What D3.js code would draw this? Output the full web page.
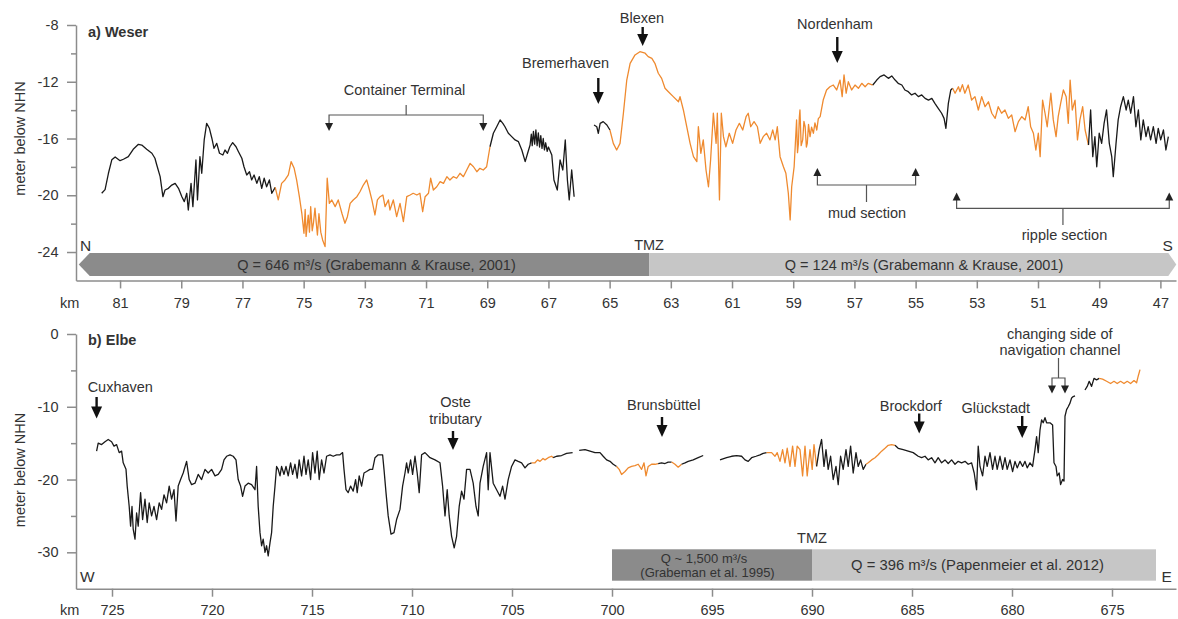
<!DOCTYPE html>
<html><head><meta charset="utf-8">
<script src="https://cdn.jsdelivr.net/npm/d3@7"></script>
<style>
body{margin:0;background:#fff;}
svg{display:block;font-family:"Liberation Sans",Arial,sans-serif;}
</style></head><body>
<svg id="c" width="1178" height="619"></svg>
<script>
// ---------------- DATA ----------------
// Weser (km, depth m)
const weserA = [[81.60,-19.86],[81.49,-19.6],[81.38,-18.45],[81.27,-17.5],[81.16,-17.3],[81.0,-17.56],[80.89,-17.46],[80.73,-17.28],[80.57,-16.76],[80.40,-16.41],[80.29,-16.46],[80.13,-16.76],[79.96,-17.04],[79.86,-17.39],[79.80,-17.87],[79.69,-18.69],[79.60,-20.1],[79.53,-19.63],[79.42,-19.51],[79.31,-19.28],[79.20,-19.16],[79.09,-19.51],[78.98,-20.1],[78.90,-20.45],[78.82,-19.86],[78.77,-21.04],[78.68,-19.16],[78.62,-20.8],[78.52,-17.51],[78.47,-20.33],[78.39,-17.28],[78.33,-18.45],[78.25,-16.1],[78.17,-14.93],[78.08,-15.28],[78.00,-15.98],[77.93,-16.69],[77.84,-16.34],[77.75,-17.04],[77.64,-17.16],[77.57,-16.81],[77.49,-17.04],[77.41,-16.58],[77.32,-16.29],[77.21,-16.58],[77.13,-16.93],[77.02,-17.39],[76.95,-17.99],[76.86,-18.57],[76.77,-18.34],[76.70,-18.92],[76.62,-18.57],[76.53,-19.16],[76.45,-18.69],[76.37,-19.51],[76.29,-18.8],[76.21,-19.4],[76.12,-18.92],[76.04,-19.86],[75.93,-19.44]];
const weserB = [[75.93,-19.44],[75.83,-20.33],[75.72,-19.16],[75.61,-18.92],[75.50,-18.57],[75.41,-17.63],[75.31,-18.1],[75.23,-18.92],[75.14,-20.1],[75.06,-21.27],[74.99,-22.68],[74.95,-21.0],[74.92,-22.9],[74.85,-21.4],[74.81,-22.6],[74.77,-20.8],[74.72,-22.5],[74.68,-21.97],[74.63,-20.9],[74.59,-21.9],[74.55,-22.8],[74.50,-21.3],[74.44,-22.6],[74.38,-23.15],[74.30,-23.62],[74.23,-18.8],[74.16,-20.57],[74.08,-20.33],[73.97,-20.8],[73.87,-20.33],[73.75,-21.27],[73.65,-21.97],[73.57,-21.51],[73.48,-20.57],[73.38,-20.33],[73.26,-20.1],[73.16,-19.75],[73.05,-19.28],[72.94,-18.92],[72.85,-19.63],[72.77,-20.33],[72.67,-21.39],[72.59,-20.33],[72.50,-20.1],[72.41,-19.98],[72.34,-20.8],[72.23,-20.33],[72.18,-21.04],[72.07,-20.33],[71.96,-21.51],[71.85,-20.57],[71.74,-21.86],[71.63,-20.1],[71.52,-19.98],[71.42,-19.86],[71.30,-19.98],[71.20,-19.86],[71.11,-21.16],[71.03,-20.1],[70.92,-19.86],[70.85,-18.8],[70.76,-19.63],[70.65,-19.4],[70.54,-19.04],[70.43,-19.16],[70.32,-18.69],[70.22,-18.92],[70.11,-18.69],[70.00,-18.8],[69.89,-18.45],[69.78,-18.69],[69.67,-18.22],[69.56,-17.75],[69.45,-17.99],[69.34,-18.34],[69.24,-18.1],[69.13,-18.22],[69.02,-17.99],[68.91,-16.58]];
const weserC = [[68.91,-16.58],[68.80,-15.63],[68.69,-15.17],[68.58,-14.69],[68.49,-14.93],[68.42,-15.17],[68.31,-15.63],[68.20,-15.87],[68.09,-16.1],[67.98,-16.22],[67.87,-16.81],[67.76,-17.63],[67.68,-17.04],[67.60,-16.46],[67.56,-15.7],[67.53,-16.5],[67.49,-15.5],[67.45,-16.4],[67.41,-15.4],[67.37,-16.5],[67.33,-15.6],[67.29,-16.6],[67.25,-15.8],[67.21,-16.7],[67.17,-16.0],[67.13,-16.8],[67.09,-16.3],[67.04,-16.9],[67.00,-16.6],[66.89,-17.16],[66.82,-18.92],[66.71,-19.63],[66.62,-17.51],[66.53,-18.22],[66.45,-16.1],[66.38,-18.92],[66.32,-20.33],[66.24,-18.22],[66.16,-20.1]];
const weserD = [[65.51,-15.05],[65.42,-15.17],[65.37,-15.63],[65.31,-14.93],[65.21,-14.81],[65.09,-15.05],[64.99,-15.4]];
const weserE = [[64.99,-15.4],[64.88,-16.34],[64.77,-16.81],[64.66,-16.34],[64.55,-14.22],[64.44,-11.88],[64.33,-10.7],[64.17,-10.11],[64.01,-9.88],[63.84,-9.99],[63.74,-10.23],[63.62,-10.35],[63.52,-10.7],[63.41,-11.4],[63.30,-11.76],[63.19,-12.46],[63.08,-12.7],[62.92,-13.05],[62.75,-13.41],[62.70,-13.05],[62.59,-13.99],[62.48,-15.17],[62.37,-16.34],[62.26,-17.28],[62.15,-17.63],[62.10,-15.17],[62.02,-17.04],[61.94,-16.1],[61.85,-18.22],[61.77,-19.4],[61.70,-17.51],[61.61,-14.22],[61.52,-16.34],[61.48,-14.22],[61.41,-20.33],[61.35,-14.22],[61.28,-15.87],[61.20,-16.58],[61.09,-15.63],[60.98,-16.34],[60.87,-15.4],[60.76,-14.93],[60.65,-15.4],[60.54,-14.46],[60.47,-14.22],[60.39,-15.17],[60.28,-14.81],[60.17,-15.17],[60.08,-16.34],[59.98,-15.87],[59.87,-15.63],[59.76,-16.1],[59.67,-15.4],[59.59,-16.1],[59.52,-15.17],[59.43,-17.28],[59.32,-17.99],[59.24,-18.45],[59.16,-19.86],[59.10,-21.74],[59.05,-19.4],[58.97,-17.99],[58.89,-14.69],[58.86,-17.0],[58.83,-16.34],[58.80,-14.5],[58.78,-13.99],[58.74,-16.5],[58.69,-16.1],[58.65,-14.8],[58.61,-15.17],[58.57,-16.6],[58.54,-16.34],[58.50,-15.0],[58.45,-15.87],[58.40,-15.2],[58.34,-15.63],[58.29,-14.9],[58.23,-15.4],[58.18,-14.6],[58.12,-14.46],[58.02,-13.29],[57.91,-12.58],[57.80,-12.35],[57.69,-12.23],[57.58,-12.58],[57.47,-11.88],[57.40,-13.05],[57.34,-11.52],[57.27,-12.81],[57.20,-12.0],[57.09,-12.58],[56.98,-12.23],[56.87,-12.46],[56.76,-12.11],[56.65,-12.35],[56.55,-12.11],[56.40,-12.23]];
const weserF = [[56.40,-12.23],[56.27,-11.88],[56.16,-11.64],[56.03,-11.52],[55.89,-11.76],[55.78,-11.59],[55.67,-11.88],[55.57,-12.11],[55.45,-12.23],[55.35,-12.58],[55.24,-12.7],[55.13,-12.93],[55.02,-12.81],[54.91,-13.05],[54.80,-12.93],[54.69,-13.17],[54.58,-13.29],[54.47,-13.17],[54.37,-13.52],[54.26,-13.87],[54.15,-14.22],[54.07,-14.58],[54.01,-15.28],[53.93,-13.52],[53.85,-12.58],[53.79,-12.46]];
const weserG = [[53.79,-12.46],[53.71,-12.81],[53.60,-12.35],[53.55,-12.7],[53.47,-12.2],[53.39,-12.81],[53.28,-12.23],[53.17,-13.29],[53.06,-13.05],[52.95,-13.99],[52.84,-13.05],[52.73,-13.76],[52.62,-13.41],[52.51,-14.22],[52.40,-14.58],[52.30,-13.76],[52.19,-14.22],[52.08,-13.99],[51.97,-14.58],[51.86,-14.34],[51.75,-15.52],[51.64,-14.81],[51.53,-14.46],[51.42,-14.69],[51.32,-13.76],[51.24,-15.17],[51.15,-15.63],[51.07,-16.81],[50.99,-15.63],[50.93,-17.28],[50.85,-13.29],[50.77,-14.22],[50.70,-15.17],[50.58,-12.81],[50.50,-14.69],[50.41,-15.87],[50.34,-14.46],[50.26,-13.52],[50.17,-12.58],[50.08,-13.05],[50.01,-14.93],[49.95,-11.88],[49.88,-13.99],[49.79,-13.29],[49.71,-16.1],[49.63,-14.69],[49.54,-13.76],[49.46,-15.4],[49.35,-16.46]];
const weserH = [[49.35,-16.46],[49.28,-13.99],[49.21,-17.28],[49.14,-15.87],[49.08,-17.99],[49.00,-15.63],[48.92,-16.34],[48.84,-14.93],[48.76,-13.99],[48.67,-16.34],[48.59,-17.28],[48.54,-18.69],[48.45,-16.34],[48.38,-14.69],[48.30,-13.76],[48.21,-13.05],[48.12,-13.99],[48.05,-13.29],[47.97,-14.22],[47.88,-13.05],[47.80,-15.17],[47.72,-13.99],[47.64,-16.1],[47.56,-14.69],[47.47,-15.87],[47.40,-15.17],[47.32,-16.1],[47.23,-15.17],[47.14,-16.34],[47.07,-15.28],[46.99,-16.1],[46.90,-15.4],[46.82,-16.81],[46.74,-15.87]];

// Elbe (km, depth m)
const elbeA = [[725.77,-16.1],[725.69,-15.0],[725.52,-15.2],[725.35,-14.8],[725.19,-14.5],[725.02,-14.8],[724.90,-15.4],[724.77,-15.2],[724.64,-16.3],[724.52,-16.1],[724.44,-17.7],[724.30,-18.6],[724.24,-20.9],[724.14,-23.7],[724.07,-26.4],[724.00,-23.7],[723.94,-26.8],[723.85,-28.2],[723.77,-24.6],[723.69,-26.4],[723.57,-21.8],[723.47,-25.5],[723.35,-22.7],[723.24,-25.9],[723.14,-23.2],[723.02,-25.0],[722.90,-23.7],[722.77,-25.5],[722.64,-23.2],[722.52,-24.1],[722.40,-22.1],[722.27,-23.2],[722.14,-20.9],[722.02,-22.7],[721.90,-21.4],[721.80,-25.7],[721.69,-20.9],[721.57,-20.0],[721.44,-19.1],[721.27,-17.5],[721.14,-20.0],[721.02,-20.7],[720.85,-20.5],[720.69,-19.3],[720.52,-20.0],[720.35,-18.6],[720.19,-19.1],[720.02,-18.6],[719.85,-19.5],[719.69,-19.3],[719.52,-18.6],[719.40,-17.3],[719.27,-16.8],[719.10,-16.6],[718.94,-16.8],[718.80,-17.3],[718.69,-20.0],[718.57,-20.9],[718.47,-22.3],[718.35,-20.9],[718.19,-20.5],[718.02,-20.7],[717.85,-21.4],[717.77,-18.2],[717.69,-23.7],[717.60,-27.3],[717.52,-29.1],[717.44,-28.2],[717.35,-30.0],[717.27,-29.1],[717.19,-30.5],[717.10,-28.7],[717.02,-27.3],[716.94,-23.7],[716.85,-20.9],[716.77,-18.2],[716.69,-18.6],[716.60,-19.5],[716.52,-18.2],[716.40,-19.3],[716.30,-18.2],[716.19,-19.5],[716.07,-17.7],[715.97,-19.3],[715.85,-17.9],[715.74,-19.8],[715.64,-17.3],[715.52,-19.5],[715.40,-16.8],[715.30,-19.3],[715.19,-17.3],[715.07,-20.0],[714.97,-16.3],[714.85,-19.1],[714.74,-16.1],[714.64,-20.0],[714.52,-17.3],[714.40,-19.1],[714.27,-16.8],[714.10,-16.6],[713.94,-16.8],[713.77,-16.6],[713.60,-16.6],[713.47,-16.3],[713.40,-18.6],[713.30,-21.4],[713.19,-21.8],[713.07,-20.9],[712.94,-21.6],[712.82,-20.0],[712.74,-21.8],[712.64,-19.5],[712.52,-20.9],[712.40,-19.1],[712.27,-18.9],[712.10,-18.6],[711.97,-18.6],[711.85,-17.0],[711.69,-16.6],[711.47,-16.6],[711.40,-18.6],[711.30,-21.8],[711.19,-25.0],[711.05,-27.5],[710.90,-27.3],[710.77,-25.5],[710.60,-24.1],[710.47,-20.9],[710.35,-19.1],[710.27,-17.7],[710.19,-19.1],[710.07,-17.3],[709.97,-19.3],[709.85,-16.8],[709.74,-19.1],[709.64,-21.8],[709.52,-16.6],[709.35,-16.3],[709.10,-17.0],[708.85,-17.3],[708.60,-17.7],[708.47,-20.9],[708.35,-25.0],[708.24,-21.4],[708.14,-25.0],[708.02,-27.8],[707.89,-29.4],[707.77,-27.8],[707.64,-23.7],[707.52,-21.6],[707.40,-22.7],[707.27,-18.6],[707.10,-18.6],[706.94,-20.5],[706.80,-23.7],[706.69,-25.0],[706.60,-20.5],[706.44,-18.2],[706.27,-16.3],[706.19,-21.4],[706.10,-16.3],[705.94,-20.5],[705.77,-21.4],[705.60,-22.3],[705.47,-20.9],[705.35,-22.7],[705.19,-20.0],[705.02,-18.2],[704.85,-17.3],[704.69,-17.5],[704.52,-17.7],[704.35,-18.4],[704.19,-17.9],[704.02,-17.7]];
const elbeB = [[704.02,-17.7],[703.85,-17.7],[703.72,-17.3],[703.60,-17.5],[703.45,-17.1],[703.35,-17.3],[703.19,-17.0],[703.02,-16.8],[702.94,-17.0]];
const elbeC = [[702.94,-17.0],[702.77,-16.8],[702.52,-16.7],[702.27,-16.4],[701.97,-16.3]];
const elbeD = [[701.64,-16.0],[701.35,-15.9],[701.10,-16.1],[700.85,-16.3],[700.60,-16.3],[700.44,-16.8],[700.27,-17.3],[700.10,-17.5],[699.94,-17.9],[699.77,-18.2]];
const elbeE = [[699.77,-18.2],[699.64,-18.6],[699.52,-19.3],[699.35,-18.9],[699.19,-18.4],[699.02,-18.2],[698.85,-18.1],[698.69,-17.9],[698.52,-18.6],[698.40,-17.7],[698.30,-19.5],[698.19,-18.2],[698.02,-17.9],[697.85,-17.9],[697.69,-17.8]];
const elbeF = [[697.69,-17.8],[697.52,-17.7],[697.35,-17.8],[697.19,-17.6],[697.02,-17.6]];
const elbeG = [[697.02,-17.6],[696.85,-17.9],[696.69,-18.3],[696.52,-17.9]];
const elbeH = [[696.52,-17.9],[696.35,-17.7],[696.19,-17.5],[695.94,-17.3],[695.69,-17.0],[695.44,-16.7]];
const elbeI = [[694.60,-17.3],[694.27,-17.0],[694.02,-16.8],[693.77,-16.7],[693.52,-16.8],[693.35,-17.3],[693.19,-17.5],[693.02,-17.0],[692.80,-16.8],[692.60,-16.6],[692.44,-16.4],[692.27,-16.3]];
const elbeJ = [[692.27,-16.3],[692.02,-16.3],[691.85,-16.8],[691.74,-16.3],[691.60,-17.5],[691.47,-15.9],[691.35,-17.7],[691.24,-15.7],[691.10,-18.2],[690.97,-15.4],[690.85,-18.2],[690.74,-15.4],[690.60,-15.9],[690.47,-19.5],[690.35,-15.4],[690.24,-19.5],[690.10,-15.9],[689.99,-18.6],[689.90,-15.2],[689.77,-18.2]];
const elbeK = [[689.77,-18.2],[689.64,-15.9],[689.52,-14.5],[689.40,-18.2],[689.30,-15.9],[689.19,-18.6],[689.07,-16.8],[688.94,-20.0],[688.80,-18.2],[688.69,-20.7],[688.57,-16.8],[688.44,-18.6],[688.30,-15.9],[688.19,-18.2],[688.07,-15.4],[687.94,-19.1],[687.80,-16.3],[687.69,-18.2],[687.57,-17.3],[687.44,-18.6],[687.30,-17.9]];
const elbeL = [[687.30,-17.9],[687.19,-17.7],[687.02,-17.3],[686.85,-17.0],[686.69,-16.6],[686.52,-16.1],[686.35,-15.7],[686.19,-15.3],[686.02,-15.2],[685.85,-15.3]];
const elbeM = [[685.85,-15.3],[685.69,-15.7],[685.44,-15.9],[685.19,-16.1],[684.94,-16.3],[684.69,-16.8],[684.52,-17.0],[684.35,-16.8],[684.19,-17.3],[684.02,-17.0],[683.85,-17.7],[683.69,-17.0],[683.52,-17.7],[683.35,-17.3],[683.19,-17.8],[683.02,-17.3],[682.85,-17.9],[682.69,-17.5],[682.52,-17.7],[682.35,-17.5],[682.19,-17.9],[682.02,-17.7],[681.89,-19.1],[681.77,-21.4],[681.69,-15.4],[681.60,-18.2],[681.47,-19.5],[681.35,-16.8],[681.24,-18.2],[681.10,-16.3],[680.97,-18.6],[680.85,-16.8],[680.74,-18.6],[680.60,-16.8],[680.47,-18.6],[680.35,-17.0],[680.24,-18.6],[680.10,-17.3],[679.97,-18.9],[679.85,-17.5],[679.74,-18.4],[679.60,-17.5],[679.47,-18.2],[679.35,-17.5],[679.24,-18.4],[679.10,-17.7],[678.97,-18.2],[678.85,-15.9],[678.77,-14.1],[678.69,-16.3],[678.60,-13.2],[678.52,-11.8],[678.44,-12.2],[678.35,-11.5],[678.27,-12.2],[678.10,-12.2],[677.97,-12.5],[677.90,-17.7],[677.80,-18.2],[677.74,-19.5],[677.64,-19.1],[677.57,-20.7],[677.47,-20.0],[677.40,-20.2],[677.35,-11.3],[677.27,-10.4],[677.19,-10.0],[677.10,-9.5],[677.02,-8.8],[676.94,-8.6],[676.85,-8.5]];
const elbeN = [[676.35,-7.7],[676.24,-7.2],[676.14,-6.5],[676.02,-7.2],[675.90,-6.1],[675.77,-6.3],[675.64,-6.1]];
const elbeO = [[675.64,-6.1],[675.47,-6.2],[675.27,-6.5],[675.07,-6.8],[674.90,-6.5],[674.74,-6.8],[674.57,-6.5],[674.40,-6.8],[674.24,-6.5],[674.07,-6.8],[673.90,-6.4],[673.77,-6.7],[673.69,-5.8],[673.60,-4.9]];

const weserSegments = [[weserA,"black"],[weserB,"orange"],[weserC,"black"],[weserD,"black"],[weserE,"orange"],[weserF,"black"],[weserG,"orange"],[weserH,"black"]];
const elbeSegments = [[elbeA,"black"],[elbeB,"orange"],[elbeC,"black"],[elbeD,"black"],[elbeE,"orange"],[elbeF,"black"],[elbeG,"orange"],[elbeH,"black"],[elbeI,"black"],[elbeJ,"orange"],[elbeK,"black"],[elbeL,"orange"],[elbeM,"black"],[elbeN,"black"],[elbeO,"orange"]];

// ticks
const weserXTicks = [81,79,77,75,73,71,69,67,65,63,61,59,57,55,53,51,49,47];
const weserYTicks = [-8,-12,-16,-20,-24];
const weserYMinor = [-10,-14,-18,-22];
const elbeXTicks = [725,720,715,710,705,700,695,690,685,680,675];
const elbeYTicks = [0,-10,-20,-30];
const elbeYMinor = [-5,-15,-25];

// annotations (km)
const weserPlaces = [["Bremerhaven",65.37],["Blexen",63.92],["Nordenham",57.56]];
const weserSections = [["Container Terminal",74.17,69.13],["mud section",58.21,55.0],["ripple section",53.66,46.71]];
const weserQ = [["Q = 646 m³/s (Grabemann & Krause, 2001)",82.35,63.71],["Q = 124 m³/s (Grabemann & Krause, 2001)",63.71,46.48]];
const elbePlaces = [["Cuxhaven",725.77],["Oste|tributary",707.95],["Brunsbüttel",697.5],["Brockdorf",684.64],["Glückstadt",679.49]];
const elbeChannel = [678.0,677.35];
const elbeQ = [["Q ~ 1,500 m³/s|(Grabeman et al. 1995)",700,690],["Q = 396 m³/s (Papenmeier et al. 2012)",690,672.8]];

// ---------------- DRAW ----------------
const svg = d3.select("#c");
const COL = {black:"#1a1a1a", orange:"#ef8a2f"};
const TXT = "#333", AXC = "#8c8c8c", FS = 14.5;

function txt(x,y,s,o={}){
  return svg.append("text").attr("x",x).attr("y",y).text(s)
    .attr("font-size",o.fs||FS).attr("fill",o.fill||TXT)
    .attr("font-weight",o.bold?"bold":"normal")
    .attr("text-anchor",o.anchor||"middle");
}
function downArrow(x,y0,y1,hw=11,hh=12){
  svg.append("line").attr("x1",x).attr("x2",x).attr("y1",y0).attr("y2",y1-hh+2)
    .attr("stroke","#111").attr("stroke-width",2.4);
  svg.append("path").attr("d",`M${x-hw/2},${y1-hh}L${x+hw/2},${y1-hh}L${x},${y1}Z`).attr("fill","#111");
}
function tri(x,tip,dir,w=8,h=8){
  const b = tip - dir*h;
  svg.append("path").attr("d",`M${x-w/2},${b}L${x+w/2},${b}L${x},${tip}Z`).attr("fill","#222");
}
function bracketLine(d){
  svg.append("path").attr("d",d).attr("fill","none").attr("stroke","#555").attr("stroke-width",1.2);
}

function panel(cfg){
  const {x,y,xTicks,yTicks,yMinor,segs,xPad,yTitleY} = cfg;
  const line = d3.line().x(d=>x(d[0])).y(d=>y(d[1]));
  segs.forEach(([pts,c])=>{
    svg.append("path").datum(pts).attr("d",line).attr("fill","none")
      .attr("stroke",COL[c]).attr("stroke-width",1.3).attr("stroke-linejoin","round");
  });
  const y0 = y.range()[0];
  const ax = svg.append("g").attr("transform",`translate(0,${y0})`)
    .call(d3.axisBottom(x).tickValues(xTicks).tickSize(8).tickSizeOuter(0).tickPadding(xPad).tickFormat(d=>String(d)));
  const ay = svg.append("g").attr("transform",`translate(${x.range()[0]},0)`)
    .call(d3.axisLeft(y).tickValues(yTicks).tickSize(9).tickSizeOuter(0).tickPadding(8.5).tickFormat(d=>String(d)));
  const am = svg.append("g").attr("transform",`translate(${x.range()[0]},0)`)
    .call(d3.axisLeft(y).tickValues(yMinor).tickSize(5).tickFormat(""));
  am.select(".domain").remove();
  [ax,ay,am].forEach(g=>{
    g.selectAll(".domain,line").attr("stroke",AXC).attr("stroke-width",1.5);
    g.selectAll("text").attr("font-size",FS).attr("fill",TXT).attr("font-family","Liberation Sans, Arial, sans-serif");
  });
  svg.append("text").attr("transform",`translate(25,${yTitleY}) rotate(-90)`)
    .attr("text-anchor","middle").attr("font-size",FS).attr("fill",TXT).text("meter below NHN");
}

// ----- Panel a: Weser
const xW = d3.scaleLinear().domain([82.44,46.49]).range([76,1176]);
const yW = d3.scaleLinear().domain([-26,-8]).range([280.4,25]);
panel({x:xW,y:yW,xTicks:weserXTicks,yTicks:weserYTicks,yMinor:weserYMinor,segs:weserSegments,xPad:9.6,yTitleY:138.5});

{
  const top=253, bot=276, mid=264.5;
  const [d,l] = weserQ;
  svg.append("path").attr("d",`M${xW(d[1])},${mid}L${xW(d[1])+11},${top}L${xW(d[2])},${top}L${xW(d[2])},${bot}L${xW(d[1])+11},${bot}Z`).attr("fill","#8b8b8b");
  svg.append("path").attr("d",`M${xW(l[1])},${top}L${xW(l[2])-8},${top}L${xW(l[2])},${mid}L${xW(l[2])-8},${bot}L${xW(l[1])},${bot}Z`).attr("fill","#c6c6c6");
  txt(376.5,269.5,d[0]);
  txt(924,269.5,l[0]);
  txt(xW(d[2]),250,"TMZ");
}
txt(80,250.7,"N",{anchor:"start",fs:15.5});
txt(1162.5,250.5,"S",{anchor:"start",fs:15.5});
txt(60,308.3,"km",{anchor:"start"});
txt(88,37,"a) Weser",{anchor:"start",bold:true});

{
  const cfgs = {"Bremerhaven":[565.5,68,78,104],"Blexen":[642,23,27,46],"Nordenham":[835,29,37,63]};
  weserPlaces.forEach(([n,km])=>{
    const c=cfgs[n]; txt(c[0],c[1],n); downArrow(xW(km),c[2],c[3]);
  });
}
{
  const [ct,mud,rip] = weserSections;
  let a=xW(ct[1]), b=xW(ct[2]), m=(a+b)/2;
  bracketLine(`M${a},124V115H${b}V124M${m},115V105`); tri(a,131,1); tri(b,131,1);
  txt(404.5,95,ct[0]);
  a=xW(mud[1]); b=xW(mud[2]); m=(a+b)/2;
  bracketLine(`M${a},176V185H${b}V176M${m},185V202`); tri(a,168,-1); tri(b,168,-1);
  txt(867,218,mud[0]);
  a=xW(rip[1]); b=xW(rip[2]); m=(a+b)/2;
  bracketLine(`M${a},200V208.3H${b}V200M${m},208.3V225`); tri(a,192.5,-1); tri(b,192.5,-1);
  txt(1064.5,239.5,rip[0]);
}

// ----- Panel b: Elbe
const xE = d3.scaleLinear().domain([726.8,671.8]).range([76,1176]);
const yE = d3.scaleLinear().domain([-35,0]).range([588.7,334]);
panel({x:xE,y:yE,xTicks:elbeXTicks,yTicks:elbeYTicks,yMinor:elbeYMinor,segs:elbeSegments,xPad:8.4,yTitleY:470});

{
  const top=549.3, bot=580.7;
  const [d,l] = elbeQ;
  svg.append("rect").attr("x",xE(d[1])).attr("y",top).attr("width",xE(d[2])-xE(d[1])).attr("height",bot-top).attr("fill","#8b8b8b");
  svg.append("rect").attr("x",xE(l[1])).attr("y",top).attr("width",xE(l[2])-xE(l[1])).attr("height",bot-top).attr("fill","#c6c6c6");
  const [l1,l2] = d[0].split("|");
  txt(704,563,l1,{fs:13});
  txt(707.5,577,l2,{fs:13});
  txt(977.5,569.5,l[0],{fs:14.8});
  txt(xE(d[2]),543,"TMZ");
}
txt(80,581.5,"W",{anchor:"start",fs:15.5});
txt(1161.5,581.7,"E",{anchor:"start",fs:15.5});
txt(60,615.4,"km",{anchor:"start"});
txt(88,345,"b) Elbe",{anchor:"start",bold:true});

{
  const cfgs = {"Cuxhaven":[120.3,[391.5],397,418.5],"Oste|tributary":[455.5,[407,424],431,450],"Brunsbüttel":[663.7,[410],417,437],"Brockdorf":[910.8,[410.5],413.5,433.5],"Glückstadt":[995.8,[413],416,438]};
  elbePlaces.forEach(([n,km])=>{
    const c=cfgs[n]; n.split("|").forEach((s,i)=>txt(c[0],c[1][i],s));
    downArrow(xE(km),c[2],c[3]);
  });
  const [a,b] = elbeChannel.map(k=>xE(k));
  bracketLine(`M${(a+b)/2},358V378M${a},386V378H${b}V386`);
  tri(a,393.5,1); tri(b,393.5,1);
  txt(1059.7,339,"changing side of");
  txt(1060,355,"navigation channel");
}
</script>
</body></html>
